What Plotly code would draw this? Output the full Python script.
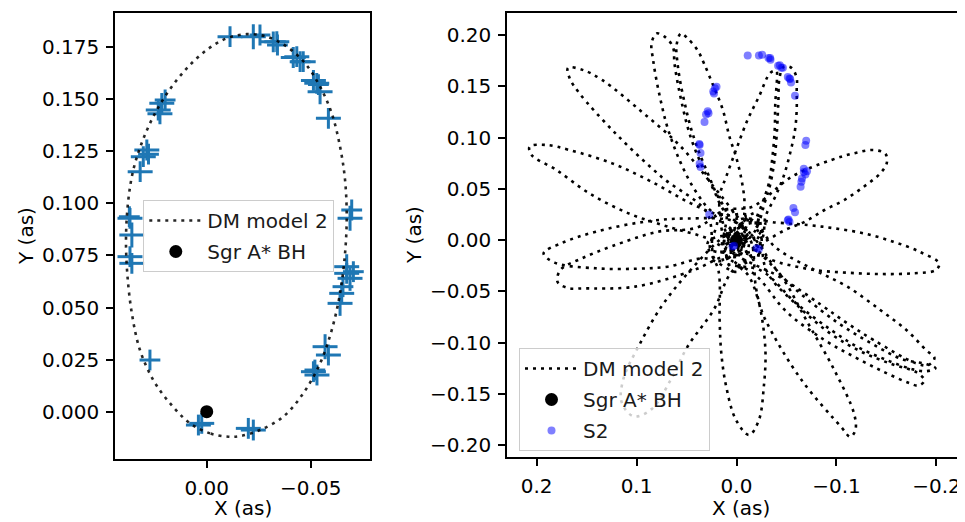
import plotly.graph_objects as go

# ---------------- data ----------------
# S2 observed positions (arcsec) and their errors
s2_x = [0.0024, 0.0040, 0.0273, 0.0369, 0.0360, 0.0360, 0.0369, 0.0372, 0.0320, 0.0305,
        0.0288, 0.0280, 0.0225, 0.0216, 0.0200, 0.0233, -0.0112, -0.0224, -0.0256, -0.0320,
        -0.0337, -0.0340, -0.0416, -0.0433, -0.0449, -0.0464, -0.0513, -0.0529, -0.0537, -0.0545,
        -0.0585, -0.0697, -0.0689, -0.0673, -0.0705, -0.0673, -0.0689, -0.0655, -0.0641, -0.0649,
        -0.0569, -0.0585, -0.0513, -0.0530, -0.0520, -0.0200, -0.0224]
s2_y = [-0.0056, -0.0064, 0.0248, 0.0744, 0.0712, 0.0848, 0.0928, 0.0936, 0.1152, 0.1224,
        0.1256, 0.1236, 0.1430, 0.1480, 0.1496, 0.1448, 0.1800, 0.1800, 0.1808, 0.1775,
        0.1776, 0.1760, 0.1700, 0.1704, 0.1680, 0.1680, 0.1590, 0.1576, 0.1570, 0.1536,
        0.1408, 0.0968, 0.0928, 0.0696, 0.0672, 0.0664, 0.0640, 0.0600, 0.0520, 0.0568,
        0.0312, 0.0272, 0.0192, 0.0176, 0.0200, -0.0080, -0.0088]
s2_xerr = [0.006, 0.006, 0.005, 0.006, 0.006, 0.006, 0.006, 0.005, 0.006, 0.006,
           0.006, 0.005, 0.006, 0.006, 0.005, 0.006, 0.006, 0.006, 0.005, 0.006,
           0.006, 0.005, 0.006, 0.006, 0.005, 0.006, 0.006, 0.006, 0.005, 0.006,
           0.006, 0.005, 0.006, 0.006, 0.005, 0.006, 0.006, 0.005, 0.006, 0.006,
           0.006, 0.006, 0.006, 0.006, 0.005, 0.006, 0.006]
s2_yerr = [0.005, 0.005, 0.005, 0.005, 0.005, 0.006, 0.005, 0.005, 0.005, 0.005,
           0.005, 0.005, 0.005, 0.005, 0.005, 0.005, 0.005, 0.006, 0.005, 0.005,
           0.005, 0.005, 0.005, 0.005, 0.005, 0.005, 0.005, 0.005, 0.005, 0.006,
           0.005, 0.005, 0.006, 0.006, 0.005, 0.005, 0.006, 0.005, 0.006, 0.005,
           0.006, 0.005, 0.005, 0.005, 0.005, 0.005, 0.005]

# DM model 2, one orbit (left panel)
orbit_x = [-0.0104, -0.0016, 0.008, 0.0176, 0.0257, 0.0321, 0.036, 0.0382, 0.0388, 0.0377,
           0.0353, 0.0313, 0.0257, 0.0185, 0.0096, 0.0, -0.0096, -0.0192, -0.0288, -0.0385,
           -0.0473, -0.0545, -0.0601, -0.0641, -0.0665, -0.0673, -0.0665, -0.0641, -0.0601, -0.0545,
           -0.0464, -0.0368, -0.0256, -0.016, -0.0104]
orbit_y = [-0.012, -0.0104, -0.0056, 0.004, 0.0152, 0.0296, 0.0472, 0.0664, 0.084, 0.1016,
           0.116, 0.1288, 0.1416, 0.1536, 0.1648, 0.1736, 0.1792, 0.1812, 0.180, 0.1752,
           0.1672, 0.156, 0.1432, 0.1272, 0.1112, 0.0936, 0.076, 0.0568, 0.0392, 0.0232,
           0.0088, -0.0024, -0.0088, -0.0117, -0.012]

# DM model 2, many precessing orbits (right panel), one line per petal
rosette_x = [
    -0.0070, -0.0094, 0.005, 0.0228, 0.0556, 0.0949, 0.1342, 0.154, 0.1686, 0.167, 0.1571, 0.1211, 0.0752, 0.0293, 0.0203, -0.0070,
    -0.0055, -0.0104, 0.015, 0.0457, 0.0851, 0.1244, 0.167, 0.190, 0.207, 0.205, 0.1801, 0.1473, 0.108, 0.0686, 0.030, 0.0044, -0.0055,
    -0.0120, 0.0012, 0.049, 0.0916, 0.1408, 0.175, 0.193, 0.182, 0.1408, 0.100, 0.0686, 0.030, -0.0021, -0.0120,
    -0.0078, 0.0067, 0.040, 0.0785, 0.1244, 0.155, 0.176, 0.179, 0.168, 0.1539, 0.1015, 0.0425, 0.015, -0.0034, -0.0078,
    -0.0074, 0.0094, 0.0457, 0.0752, 0.0981, 0.113, 0.115, 0.103, 0.085, 0.065, 0.049, 0.0228, 0.004, -0.0224, -0.0074,
    0.0005, 0.0286, 0.018, 0.0169, 0.0152, 0.0103, 0.0005, -0.0126, -0.0224, -0.0273, -0.029, -0.0258, -0.0192, -0.0132, 0.0005,
    0.0056, 0.0132, -0.0126, -0.029, -0.0651, -0.1044, -0.114, -0.119, -0.1175, -0.0978, -0.0716, -0.0454, -0.020, -0.0284, 0.0056,
    0.0072, -0.0197, -0.030, -0.060, -0.095, -0.125, -0.155, -0.180, -0.188, -0.182, -0.1733, -0.147, -0.1175, -0.088, -0.050, -0.020, 0.0105, 0.0072,
    0.0110, -0.0070, -0.045, -0.085, -0.111, -0.137, -0.165, -0.190, -0.199, -0.190, -0.1765, -0.1502, -0.1207, -0.0946, -0.060, -0.025, 0.0129, 0.0110,
    0.0052, -0.0121, -0.040, -0.0782, -0.1109, -0.1438, -0.1699, -0.1896, -0.198, -0.192, -0.1797, -0.1372, -0.1109, -0.0848, -0.045, 0.0055, 0.0052,
    0.0119, -0.0023, -0.040, -0.0716, -0.0978, -0.1273, -0.1568, -0.1831, -0.2027, -0.1994, -0.1765, -0.1438, -0.1109, -0.0782, -0.0454, -0.015, 0.0035, 0.0119,
    0.0071, 0.0140, -0.0159, -0.0553, -0.0946, -0.1175, -0.1372, -0.149, -0.1503, -0.1438, -0.1273, -0.1077, -0.088, -0.0683, -0.0487, -0.020, -0.0060, 0.0071,
    0.0029, -0.015, -0.022, -0.028, -0.034, -0.038, -0.0405, -0.0418, -0.043, -0.047, -0.055, -0.0602, -0.0602, -0.0602, -0.0585, -0.0536, -0.047, -0.0388, -0.029, -0.026, -0.010, 0.0029,
    0.0029, 0.0129, 0.0169, 0.0103, 0.0005, -0.011, -0.0224, -0.034, -0.040, -0.0405, -0.0388, -0.0382, -0.0356, -0.0323, -0.0258, -0.0192, -0.0258, 0.0029,
    -0.0019, 0.012, 0.010, 0.020, 0.030, 0.0395, 0.046, 0.051, 0.056, 0.059, 0.060, 0.0556, 0.049, 0.0391, 0.0326, 0.0228, 0.0136, 0.0071, 0.0005, -0.0044, -0.0077, -0.0093, -0.024, -0.0019,
    -0.0040, 0.026, 0.0195, 0.0326, 0.0457, 0.0556, 0.0637, 0.0703, 0.0752, 0.0801, 0.0834, 0.085, 0.080, 0.072, 0.0637, 0.0621, 0.0588, 0.0539, 0.049, 0.0425, 0.0326, 0.0228, 0.013, -0.008, -0.0040,
]
rosette_y = [
    -0.0071, 0.0093, 0.030, 0.052, 0.091, 0.1252, 0.156, 0.166, 0.168, 0.158, 0.1431, 0.1041, 0.0618, 0.026, -0.0202, -0.0071,
    -0.0024, 0.0242, 0.024, 0.0358, 0.0569, 0.0748, 0.0878, 0.0927, 0.091, 0.083, 0.0683, 0.0455, 0.026, 0.013, 0.002, -0.0101, -0.0024,
    0.0008, 0.0176, 0.021, 0.0179, 0.0081, -0.003, -0.013, -0.022, -0.0276, -0.028, -0.026, -0.018, -0.0308, 0.0008,
    0.0017, 0.0301, 0.012, 0.0081, -0.006, -0.018, -0.029, -0.041, -0.047, -0.0472, -0.0455, -0.0293, -0.017, -0.0151, 0.0017,
    0.0119, 0.0058, -0.029, -0.065, -0.104, -0.135, -0.158, -0.172, -0.165, -0.135, -0.104, -0.068, -0.030, -0.0139, 0.0119,
    0.0070, -0.0020, -0.030, -0.078, -0.1106, -0.1431, -0.1756, -0.1902, -0.1756, -0.1431, -0.1106, -0.078, -0.045, 0.0009, 0.0070,
    0.0094, -0.0079, -0.0358, -0.078, -0.1366, -0.1821, -0.192, -0.185, -0.1691, -0.1268, -0.0813, -0.0358, -0.005, 0.0170, 0.0094,
    0.0054, 0.0264, -0.030, -0.063, -0.092, -0.109, -0.121, -0.129, -0.137, -0.142, -0.1398, -0.1285, -0.1138, -0.0976, -0.070, -0.035, -0.0141, 0.0054,
    0.0069, 0.0112, -0.035, -0.069, -0.087, -0.102, -0.116, -0.121, -0.125, -0.128, -0.1262, -0.1171, -0.1041, -0.0878, -0.062, -0.030, -0.0206, 0.0069,
    0.0030, 0.0209, -0.008, -0.0293, -0.0455, -0.0683, -0.0878, -0.1073, -0.115, -0.122, -0.1203, -0.0976, -0.0813, -0.0634, -0.037, -0.0095, 0.0030,
    0.0013, 0.0197, 0.017, 0.0146, 0.0114, 0.0065, -0.0016, -0.0114, -0.0228, -0.0293, -0.0325, -0.0332, -0.0319, -0.0293, -0.0228, -0.015, -0.0307, 0.0013,
    -0.0036, 0.0274, 0.0325, 0.0618, 0.078, 0.0846, 0.0878, 0.084, 0.075, 0.065, 0.052, 0.039, 0.0293, 0.0179, 0.0098, -0.006, -0.0118, -0.0036,
    -0.0096, 0.004, 0.016, 0.0358, 0.0553, 0.078, 0.1073, 0.1333, 0.158, 0.169, 0.168, 0.158, 0.1463, 0.1268, 0.1073, 0.0846, 0.0618, 0.0423, 0.0228, 0.002, -0.020, -0.0096,
    -0.0137, 0.0028, 0.0423, 0.0618, 0.0878, 0.1171, 0.1398, 0.1633, 0.165, 0.1593, 0.1333, 0.1073, 0.078, 0.0553, 0.0358, 0.0163, -0.0055, -0.0137,
    -0.0067, -0.003, 0.026, 0.045, 0.068, 0.091, 0.1105, 0.130, 0.1529, 0.1724, 0.190, 0.2016, 0.1968, 0.1854, 0.1724, 0.1496, 0.1268, 0.1008, 0.0813, 0.0618, 0.0423, 0.0228, 0.008, -0.0067,
    -0.0103, -0.009, 0.0195, 0.0358, 0.0553, 0.0748, 0.0943, 0.1138, 0.1333, 0.156, 0.1756, 0.1919, 0.2015, 0.1984, 0.1886, 0.1724, 0.1529, 0.130, 0.1105, 0.091, 0.0683, 0.0488, 0.0293, 0.008, -0.0103,
]

bh_x = [0.0]
bh_y = [0.0]

left_yticks = [0.0, 0.025, 0.05, 0.075, 0.1, 0.125, 0.15, 0.175]
left_yticktext = ["0.000", "0.025", "0.050", "0.075", "0.100", "0.125", "0.150", "0.175"]
left_xticks = [0.0, -0.05]
left_xticktext = ["0.00", "\u22120.05"]
right_yticks = [-0.2, -0.15, -0.1, -0.05, 0.0, 0.05, 0.1, 0.15, 0.2]
right_yticktext = ["\u22120.20", "\u22120.15", "\u22120.10", "\u22120.05", "0.00", "0.05", "0.10", "0.15", "0.20"]
right_xticks = [0.2, 0.1, 0.0, -0.1, -0.2]
right_xticktext = ["0.2", "0.1", "0.0", "\u22120.1", "\u22120.2"]

assert len(rosette_x) == len(rosette_y)
assert len(orbit_x) == len(orbit_y)
assert len(s2_x) == len(s2_y) == len(s2_xerr) == len(s2_yerr)

# ---------------- figure ----------------
# the page body has an 8px margin, so the figure is placed at (8, 8) in the window
OFF = 8
W, H = 965 - OFF, 522 - OFF
FONT = "DejaVu Sans"
FS = 20
S2_BLUE = "#1f77b4"


def px_x(p):
    return (p - OFF) / W


def px_y(p):
    return 1 - (p - OFF) / H


fig = go.Figure()

# left panel
fig.add_trace(go.Scatter(
    x=s2_x, y=s2_y, mode="markers", xaxis="x", yaxis="y", showlegend=False,
    marker=dict(size=1, color="rgba(0,0,0,0)"),
    error_x=dict(type="data", array=s2_xerr, width=0, thickness=3, color=S2_BLUE),
    error_y=dict(type="data", array=s2_yerr, width=0, thickness=3, color=S2_BLUE),
    hoverinfo="skip"))
fig.add_trace(go.Scatter(
    x=orbit_x, y=orbit_y, mode="lines", xaxis="x", yaxis="y", name="DM model 2",
    legend="legend", legendgroup="l1",
    line=dict(color="rgba(0,0,0,0.85)", width=2.6, dash="3px,5px", shape="spline", smoothing=1.0)))
fig.add_trace(go.Scatter(
    x=bh_x, y=bh_y, mode="markers", xaxis="x", yaxis="y", name="Sgr A* BH",
    legend="legend", legendgroup="l2", marker=dict(size=13, color="black")))

# right panel
fig.add_trace(go.Scatter(
    x=rosette_x, y=rosette_y, mode="lines", xaxis="x2", yaxis="y2", name="DM model 2",
    legend="legend2", legendgroup="r1",
    line=dict(color="black", width=2.6, dash="3px,5px", shape="spline", smoothing=1.0)))
fig.add_trace(go.Scatter(
    x=bh_x, y=bh_y, mode="markers", xaxis="x2", yaxis="y2", name="Sgr A* BH",
    legend="legend2", legendgroup="r2", marker=dict(size=13, color="black")))
fig.add_trace(go.Scatter(
    x=s2_x, y=s2_y, mode="markers", xaxis="x2", yaxis="y2", name="S2",
    legend="legend2", legendgroup="r3", marker=dict(size=8, color="rgba(0,0,255,0.5)")))

axis_common = dict(
    showgrid=False, zeroline=False, showline=True, linecolor="black", linewidth=1.6,
    ticks="outside", ticklen=7, tickwidth=1.6, tickcolor="black", ticklabelstandoff=3,
    tickfont=dict(family=FONT, size=FS, color="black"), fixedrange=True)

legend_common = dict(
    bgcolor="rgba(255,255,255,0.8)", bordercolor="#cccccc", borderwidth=1,
    font=dict(family=FONT, size=FS, color="#1a1a1a"), itemwidth=53, tracegroupgap=2)

title_font = dict(family=FONT, size=FS, color="black")

fig.update_layout(
    width=W, height=H, margin=dict(l=0, r=0, t=0, b=0),
    paper_bgcolor="white", plot_bgcolor="white",
    font=dict(family=FONT, size=FS, color="black"),
    xaxis=dict(axis_common, domain=[px_x(115), px_x(370)], range=[0.0441, -0.0785],
               tickmode="array", tickvals=left_xticks, ticktext=left_xticktext,
               mirror=True, anchor="y"),
    yaxis=dict(axis_common, domain=[px_y(459), px_y(13.3)], range=[-0.0227, 0.1912],
               tickmode="array", tickvals=left_yticks, ticktext=left_yticktext,
               mirror=True, anchor="x"),
    xaxis2=dict(axis_common, domain=[px_x(507), 1.0], range=[0.2296, -0.2207 - 8 / 1017],
                tickmode="array", tickvals=right_xticks, ticktext=right_xticktext,
                mirror=True, anchor="y2"),
    yaxis2=dict(axis_common, domain=[px_y(457), px_y(13.3)], range=[-0.2117, 0.2212],
                tickmode="array", tickvals=right_yticks, ticktext=right_yticktext,
                mirror=False, anchor="x2"),
    legend=dict(legend_common, x=px_x(143.3), y=px_y(200), xanchor="left", yanchor="top"),
    legend2=dict(legend_common, x=px_x(519), y=px_y(451), xanchor="left", yanchor="bottom"),
    showlegend=True,
    annotations=[
        dict(text="X (as)", x=px_x(242.5), y=px_y(508), xref="paper", yref="paper",
             showarrow=False, xanchor="center", yanchor="middle", font=title_font),
        dict(text="X (as)", x=px_x(741), y=px_y(508), xref="paper", yref="paper",
             showarrow=False, xanchor="center", yanchor="middle", font=title_font),
        dict(text="Y (as)", x=px_x(26), y=px_y(236), xref="paper", yref="paper",
             showarrow=False, xanchor="center", yanchor="middle", textangle=-90, font=title_font),
        dict(text="Y (as)", x=px_x(414), y=px_y(235), xref="paper", yref="paper",
             showarrow=False, xanchor="center", yanchor="middle", textangle=-90, font=title_font),
    ],
)

fig.write_html("out.html")
